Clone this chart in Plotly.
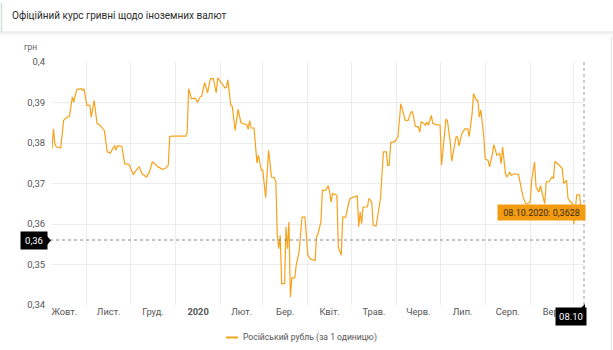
import plotly.graph_objects as go
import pandas as pd

title_text = "Офіційний курс гривні щодо іноземних валют"
series_name = "Російський рубль (за 1 одиницю)"
unit_label = "грн"

dates = [
    "2019-10-08", "2019-10-09", "2019-10-10", "2019-10-11", "2019-10-14", "2019-10-16", "2019-10-18",
    "2019-10-20", "2019-10-22", "2019-10-23", "2019-10-25", "2019-10-28", "2019-10-29", "2019-10-30",
    "2019-11-01", "2019-11-03", "2019-11-04", "2019-11-06", "2019-11-08", "2019-11-10", "2019-11-13",
    "2019-11-15", "2019-11-17", "2019-11-20", "2019-11-21", "2019-11-22", "2019-11-25", "2019-11-27",
    "2019-11-30", "2019-12-03", "2019-12-05", "2019-12-07", "2019-12-09", "2019-12-11", "2019-12-12",
    "2019-12-14", "2019-12-16", "2019-12-18", "2019-12-20", "2019-12-23", "2019-12-25", "2019-12-27",
    "2019-12-28", "2019-12-30", "2020-01-08", "2020-01-09", "2020-01-10", "2020-01-12", "2020-01-14",
    "2020-01-15", "2020-01-16", "2020-01-18", "2020-01-19", "2020-01-21", "2020-01-23", "2020-01-25",
    "2020-01-27", "2020-01-29", "2020-01-30", "2020-02-02", "2020-02-04", "2020-02-05", "2020-02-06",
    "2020-02-08", "2020-02-09", "2020-02-11", "2020-02-13", "2020-02-15", "2020-02-17", "2020-02-19",
    "2020-02-20", "2020-02-21", "2020-02-22", "2020-02-24", "2020-02-26", "2020-02-27", "2020-02-29",
    "2020-03-01", "2020-03-03", "2020-03-05", "2020-03-07", "2020-03-09", "2020-03-10", "2020-03-11",
    "2020-03-12", "2020-03-13", "2020-03-14", "2020-03-16", "2020-03-17", "2020-03-18", "2020-03-19",
    "2020-03-20", "2020-03-21", "2020-03-23", "2020-03-24", "2020-03-26", "2020-03-28", "2020-03-30",
    "2020-04-01", "2020-04-03", "2020-04-06", "2020-04-07", "2020-04-08", "2020-04-10", "2020-04-11",
    "2020-04-13", "2020-04-14", "2020-04-15", "2020-04-16", "2020-04-17", "2020-04-18", "2020-04-21",
    "2020-04-22", "2020-04-24", "2020-04-25", "2020-04-27", "2020-04-29", "2020-04-30", "2020-05-03",
    "2020-05-05", "2020-05-06", "2020-05-07", "2020-05-08", "2020-05-09", "2020-05-12", "2020-05-13",
    "2020-05-15", "2020-05-16", "2020-05-18", "2020-05-20", "2020-05-21", "2020-05-23", "2020-05-25",
    "2020-05-26", "2020-05-27", "2020-05-28", "2020-05-31", "2020-06-02", "2020-06-04", "2020-06-07",
    "2020-06-09", "2020-06-11", "2020-06-12", "2020-06-14", "2020-06-16", "2020-06-17", "2020-06-18",
    "2020-06-20", "2020-06-21", "2020-06-22", "2020-06-23", "2020-06-25", "2020-06-26", "2020-06-28",
    "2020-07-01", "2020-07-02", "2020-07-05", "2020-07-06", "2020-07-08", "2020-07-09", "2020-07-12",
    "2020-07-13", "2020-07-14", "2020-07-16", "2020-07-18", "2020-07-20", "2020-07-21", "2020-07-23",
    "2020-07-24", "2020-07-26", "2020-07-27", "2020-07-28", "2020-07-29", "2020-07-31", "2020-08-01",
    "2020-08-03", "2020-08-04", "2020-08-06", "2020-08-07", "2020-08-09", "2020-08-11", "2020-08-12",
    "2020-08-13", "2020-08-15", "2020-08-16", "2020-08-18", "2020-08-19", "2020-08-21", "2020-08-24",
    "2020-08-27", "2020-08-29", "2020-08-30", "2020-09-01", "2020-09-02", "2020-09-04", "2020-09-05",
    "2020-09-07", "2020-09-08", "2020-09-09", "2020-09-11", "2020-09-12", "2020-09-14", "2020-09-16",
    "2020-09-17", "2020-09-18", "2020-09-20", "2020-09-21", "2020-09-23", "2020-09-24", "2020-09-26",
    "2020-09-27", "2020-09-28", "2020-09-30", "2020-10-01", "2020-10-03", "2020-10-05", "2020-10-06",
    "2020-10-07", "2020-10-08",
]

rub_rate = [
    0.3786, 0.3835, 0.3798, 0.3790, 0.3788, 0.3856, 0.3863,
    0.3866, 0.3914, 0.3901, 0.3932, 0.3934, 0.3930, 0.3934,
    0.3893, 0.3893, 0.3864, 0.3905, 0.3848, 0.3844, 0.3831,
    0.3778, 0.3775, 0.3794, 0.3782, 0.3793, 0.3792, 0.3749,
    0.3747, 0.3722, 0.3733, 0.3741, 0.3724, 0.3719, 0.3716,
    0.3728, 0.3753, 0.3748, 0.3741, 0.3735, 0.3737, 0.3745,
    0.3816, 0.3817, 0.3817, 0.3827, 0.3934, 0.3909, 0.3911,
    0.3909, 0.3900, 0.3914, 0.3916, 0.3949, 0.3924, 0.3959,
    0.3959, 0.3924, 0.3961, 0.3946, 0.3936, 0.3938, 0.3956,
    0.3893, 0.3891, 0.3831, 0.3883, 0.3850, 0.3848, 0.3845,
    0.3834, 0.3855, 0.3837, 0.3837, 0.3751, 0.3770, 0.3733,
    0.3733, 0.3665, 0.3782, 0.3716, 0.3714, 0.3704, 0.3572,
    0.3539, 0.3572, 0.3453, 0.3453, 0.3593, 0.3539, 0.3605,
    0.3420, 0.3467, 0.3467, 0.3498, 0.3531, 0.3617, 0.3617,
    0.3523, 0.3513, 0.3510, 0.3568, 0.3576, 0.3605, 0.3683,
    0.3683, 0.3687, 0.3695, 0.3679, 0.3654, 0.3675, 0.3671,
    0.3543, 0.3523, 0.3617, 0.3617, 0.3650, 0.3663, 0.3667,
    0.3669, 0.3593, 0.3630, 0.3601, 0.3642, 0.3642, 0.3663,
    0.3654, 0.3597, 0.3595, 0.3646, 0.3663, 0.3778, 0.3778,
    0.3745, 0.3745, 0.3801, 0.3804, 0.3815, 0.3897, 0.3856,
    0.3856, 0.3877, 0.3877, 0.3841, 0.3840, 0.3827, 0.3852,
    0.3848, 0.3844, 0.3852, 0.3844, 0.3868, 0.3848, 0.3846,
    0.3844, 0.3745, 0.3858, 0.3856, 0.3802, 0.3755, 0.3815,
    0.3815, 0.3793, 0.3823, 0.3835, 0.3835, 0.3816, 0.3872,
    0.3922, 0.3905, 0.3905, 0.3864, 0.3881, 0.3819, 0.3761,
    0.3757, 0.3741, 0.3774, 0.3796, 0.3770, 0.3774, 0.3749,
    0.3790, 0.3724, 0.3716, 0.3728, 0.3720, 0.3724, 0.3722,
    0.3667, 0.3650, 0.3650, 0.3654, 0.3708, 0.3753, 0.3691,
    0.3679, 0.3695, 0.3679, 0.3650, 0.3704, 0.3705, 0.3716,
    0.3712, 0.3755, 0.3749, 0.3745, 0.3737, 0.3700, 0.3708,
    0.3663, 0.3658, 0.3650, 0.3600, 0.3672, 0.3672, 0.3630,
    0.3642, 0.3628,
]

month_labels = ["Жовт.", "Лист.", "Груд.", "<b>2020</b>", "Лют.", "Бер.", "Квіт.",
                "Трав.", "Черв.", "Лип.", "Серп.", "Вер."]
y_ticks = [0.34, 0.35, 0.36, 0.37, 0.38, 0.39, 0.40]
y_tick_labels = ["0,34", "0,35", "0,36", "0,37", "0,38", "0,39", "0,4"]

tooltip_text = "08.10.2020: 0,3628"
cursor_y_label = "0,36"
cursor_x_label = "08.10"
cursor_value = 0.35605

month_starts = pd.date_range("2019-10-01", "2020-10-01", freq="MS")
month_mids = month_starts[:-1] + (month_starts[1:] - month_starts[:-1]) / 2

LINE = "#f7a21b"
W, H = 613, 350
L, R, T, B = 52, 29, 62, 45
PW, PH = W - L - R, H - T - B


def px(x):
    return (x - L) / PW


def py(y):
    return (H - B - y) / PH


fig = go.Figure()
fig.add_trace(go.Scatter(
    x=pd.to_datetime(dates), y=rub_rate, mode="lines",
    line=dict(color=LINE, width=1.2), name=series_name, showlegend=False,
    hoverinfo="skip",
))

shapes = []
# header card
shapes.append(dict(type="rect", xref="paper", yref="paper", x0=px(0), x1=px(613), y0=py(35), y1=py(32),
                   fillcolor="#f6f6f6", line=dict(width=0), layer="below"))
shapes.append(dict(type="line", xref="paper", yref="paper", x0=px(0), x1=px(613), y0=py(32), y1=py(32),
                   line=dict(color="#e2e2e2", width=1), layer="below"))
shapes.append(dict(type="line", xref="paper", yref="paper", x0=px(1.5), x1=px(1.5), y0=py(3), y1=py(32),
                   line=dict(color="#cfe3d6", width=1.5), layer="below"))
shapes.append(dict(type="line", xref="paper", yref="paper", x0=px(611.5), x1=px(611.5), y0=py(36), y1=py(350),
                   line=dict(color="#e6e6e6", width=1), layer="below"))
# crosshair lines
shapes.append(dict(type="line", xref="paper", yref="y", x0=px(50), x1=1.0, y0=cursor_value, y1=cursor_value,
                   line=dict(color="#888888", width=1, dash="dot")))
shapes.append(dict(type="line", xref="paper", yref="paper", x0=1.0, x1=1.0, y0=0, y1=1,
                   line=dict(color="#999999", width=1, dash="dot")))
# crosshair label pointers
shapes.append(dict(type="path", xref="paper", yref="paper",
                   path=f"M {px(47)},{py(236)} L {px(51)},{py(240.5)} L {px(47)},{py(245)} Z",
                   fillcolor="#000000", line=dict(width=0)))
shapes.append(dict(type="path", xref="paper", yref="paper",
                   path=f"M {px(581)},{py(308)} L {px(585)},{py(304)} L {px(585)},{py(308)} Z",
                   fillcolor="#000000", line=dict(width=0)))
# legend marker
shapes.append(dict(type="line", xref="paper", yref="paper", x0=px(226), x1=px(238), y0=py(337.5), y1=py(337.5),
                   line=dict(color=LINE, width=2)))

annotations = [
    dict(text=title_text, xref="paper", yref="paper", x=px(10), y=py(16), xanchor="left", yanchor="middle",
         showarrow=False, font=dict(size=10, color="#2b2b2b", family="Roboto")),
    dict(text=unit_label, xref="paper", yref="paper", x=px(22), y=py(47), xanchor="left", yanchor="middle",
         showarrow=False, font=dict(size=8.5, color="#666666", family="Roboto")),
    dict(text=series_name, xref="paper", yref="paper", x=px(241), y=py(337.5), xanchor="left", yanchor="middle",
         showarrow=False, font=dict(size=8.6, color="#555555", family="Roboto")),
    dict(text=tooltip_text, xref="paper", yref="paper", x=px(541), y=py(212.5), xanchor="center", yanchor="middle",
         showarrow=False, bgcolor="#f39c12", borderpad=1.5, width=84, height=12,
         font=dict(size=9, color="#3a2a10", family="Roboto")),
    dict(text=cursor_y_label, xref="paper", yref="paper", x=px(34), y=py(240.5), xanchor="center", yanchor="middle",
         showarrow=False, bgcolor="#000000", borderpad=2, width=22, height=13,
         font=dict(size=9.5, color="#ffffff", family="Roboto")),
    dict(text=cursor_x_label, xref="paper", yref="paper", x=px(570.5), y=py(316.5), xanchor="center", yanchor="middle",
         showarrow=False, bgcolor="#000000", borderpad=2, width=26, height=13,
         font=dict(size=9.5, color="#ffffff", family="Roboto")),
]

fig.update_layout(
    width=W, height=H,
    margin=dict(l=L, r=R, t=T, b=B, autoexpand=False),
    paper_bgcolor="#ffffff", plot_bgcolor="#ffffff",
    font=dict(family="Roboto", size=9.5, color="#555555"),
    showlegend=False,
    shapes=shapes, annotations=annotations,
    xaxis=dict(
        range=["2019-10-08", "2020-10-08"],
        tickmode="array", tickvals=list(month_mids), ticktext=month_labels,
        showgrid=False, zeroline=False, showline=False, ticks="",
        tickfont=dict(size=9.3, color="#555555"),
        minor=dict(tickmode="array", tickvals=list(month_starts), showgrid=True,
                   gridcolor="#ececec", gridwidth=1, ticks=""),
    ),
    yaxis=dict(
        range=[0.34, 0.40], tickmode="array", tickvals=y_ticks, ticktext=y_tick_labels,
        showgrid=True, gridcolor="#ececec", gridwidth=1, zeroline=False, showline=False,
        ticks="outside", ticklen=4, tickcolor="rgba(0,0,0,0)",
        tickfont=dict(size=9.5, color="#555555"),
    ),
)

fig.write_html("out.html")
